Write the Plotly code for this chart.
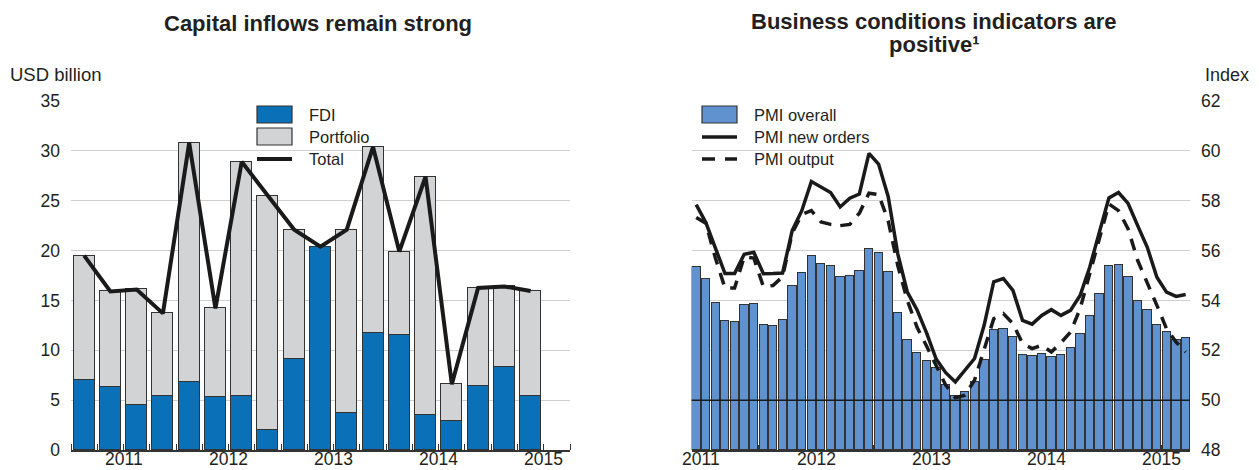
import plotly.graph_objects as go

# ---- Capital inflows, quarterly 2011Q1-2015Q2 (USD billion) ----
quarters = ["2011Q1", "2011Q2", "2011Q3", "2011Q4", "2012Q1", "2012Q2", "2012Q3", "2012Q4",
            "2013Q1", "2013Q2", "2013Q3", "2013Q4", "2014Q1", "2014Q2", "2014Q3", "2014Q4",
            "2015Q1", "2015Q2"]
fdi = [7.0, 6.35, 4.5, 5.4, 6.8, 5.3, 5.4, 2.05, 9.1, 20.4, 3.7, 11.7,
       11.5, 3.5, 2.9, 6.4, 8.35, 5.45]
portfolio = [12.5, 9.55, 11.6, 8.3, 24.0, 8.9, 23.5, 23.45, 13.0, 0.0, 18.4, 18.7,
             8.4, 23.9, 3.7, 9.85, 8.05, 10.5]
total = [a + b for a, b in zip(fdi, portfolio)]
left_years = ["2011", "2012", "2013", "2014", "2015"]
left_year_pos = [1.5, 5.5, 9.5, 13.5, 17.5]

# ---- PMI indices, monthly Jan 2011 - Apr 2015 ----
pmi_overall = [55.33, 54.87, 53.9, 53.17, 53.13, 53.83, 53.84, 53.03, 52.99, 53.23, 54.59, 55.12,
               55.79, 55.47, 55.4, 54.93, 55.0, 55.2, 56.07, 55.89, 55.15, 53.51, 52.43, 51.91,
               51.59, 51.29, 50.6, 50.17, 50.33, 50.71, 51.6, 52.8, 52.84, 52.53, 51.81, 51.79,
               51.84, 51.73, 51.81, 52.11, 52.67, 53.37, 54.27, 55.39, 55.41, 54.92, 53.99, 53.63,
               53.03, 52.73, 52.43, 52.48]
pmi_new_orders = [57.84, 57.13, 56.1, 55.08, 55.08, 55.85, 55.93, 55.07, 55.08, 55.1, 56.8, 57.6,
                  58.77, 58.53, 58.33, 57.75, 58.1, 58.27, 59.9, 59.47, 58.17, 55.87, 54.33, 53.63,
                  52.7, 51.65, 51.1, 50.73, 51.2, 51.67, 53.0, 54.75, 54.88, 54.4, 53.2, 53.05,
                  53.4, 53.63, 53.4, 53.6, 54.2, 55.33, 56.73, 58.11, 58.33, 57.89, 57.0, 56.13,
                  54.93, 54.33, 54.16, 54.24]
pmi_output = [57.33, 57.1, 55.7, 54.5, 54.5, 55.75, 55.7, 54.55, 54.6, 54.95, 56.7, 57.45,
              57.6, 57.15, 57.05, 57.0, 57.05, 57.5, 58.3, 58.25, 57.2, 55.4, 54.0, 52.93,
              52.17, 51.4, 50.6, 50.1, 50.2, 50.8, 52.0, 53.27, 53.47, 53.07, 52.27, 52.07,
              52.2, 51.93, 52.3, 52.73, 53.67, 55.07, 56.53, 57.87, 57.6, 56.87, 55.6, 54.73,
              53.8, 52.87, 52.33, 51.93]
right_years = ["2011", "2012", "2013", "2014", "2015"]
right_year_pos = [0.5, 12.5, 24.5, 36.5, 48.5]

W, H = 1259, 470
FONT = "Liberation Sans, Arial, Helvetica, sans-serif"
TXT = "#231f20"
BLUE = "#0a70b8"
GREY = "#d1d3d4"
PMI_BLUE = "#6192d0"
EDGE = "#333333"
GRID = "#cfcfcf"


def px_x(v):
    return v / W


def px_y(v):
    return 1 - v / H


qx = list(range(len(quarters)))
mx = list(range(len(pmi_overall)))

fig = go.Figure()

# left panel: stacked bars plus total line
fig.add_trace(go.Bar(x=qx, y=fdi, marker=dict(color=BLUE, line=dict(color=EDGE, width=1.2)),
                     width=0.8, xaxis="x", yaxis="y", showlegend=False))
fig.add_trace(go.Bar(x=qx, y=portfolio, marker=dict(color=GREY, line=dict(color=EDGE, width=1.2)),
                     width=0.8, xaxis="x", yaxis="y", showlegend=False))
fig.add_trace(go.Scatter(x=qx, y=total, mode="lines", line=dict(color="#1a1a1a", width=4),
                         xaxis="x", yaxis="y", showlegend=False))

# right panel: PMI bars and component lines
fig.add_trace(go.Bar(x=mx, y=[v - 48 for v in pmi_overall], base=48,
                     marker=dict(color=PMI_BLUE, line=dict(color=EDGE, width=1)),
                     width=0.87, xaxis="x2", yaxis="y2", showlegend=False))
fig.add_trace(go.Scatter(x=mx, y=pmi_new_orders, mode="lines", line=dict(color="#1a1a1a", width=3.5),
                         xaxis="x2", yaxis="y2", showlegend=False))
fig.add_trace(go.Scatter(x=mx, y=pmi_output, mode="lines",
                         line=dict(color="#1a1a1a", width=3.5, dash="12px,9px"),
                         xaxis="x2", yaxis="y2", showlegend=False))

ydom = [px_y(450), px_y(101)]
tickfont = dict(family=FONT, size=17.5, color=TXT)

fig.update_layout(
    width=W, height=H, margin=dict(l=0, r=0, t=0, b=0, autoexpand=False),
    paper_bgcolor="white", plot_bgcolor="white",
    barmode="stack", bargap=0,
    font=dict(family=FONT, color=TXT),
    xaxis=dict(domain=[px_x(71), px_x(570)], range=[-0.5, 18.5], anchor="y", automargin=False,
               showticklabels=False, ticks="", showgrid=False, zeroline=False,
               showline=True, linecolor=EDGE, linewidth=1.5,
               minor=dict(tickmode="array", tickvals=[i - 0.5 for i in range(20)], ticks="inside",
                          ticklen=6, tickcolor=EDGE, tickwidth=1, showgrid=False)),
    yaxis=dict(domain=ydom, range=[0, 35], anchor="x", tickmode="linear", tick0=0, dtick=5,
               automargin=False,
               showgrid=True, gridcolor=GRID, gridwidth=1, zeroline=False, showline=False,
               ticks="", tickfont=tickfont, ticklabelstandoff=10),
    xaxis2=dict(domain=[px_x(691.7), px_x(1190)], range=[-0.47, 51.45], anchor="y2", automargin=False,
                showticklabels=False, ticks="", showgrid=False, zeroline=False,
                showline=True, linecolor=EDGE, linewidth=1.5,
                minor=dict(tickmode="array", tickvals=[0.5 + 6 * i for i in range(9)], ticks="inside",
                           ticklen=5, tickcolor=EDGE, tickwidth=1, showgrid=False)),
    yaxis2=dict(domain=ydom, range=[48, 62], anchor="x2", side="right", tickmode="linear",
                automargin=False,
                tick0=48, dtick=2, showgrid=True, gridcolor=GRID, gridwidth=1, zeroline=False,
                showline=False, ticks="", tickfont=tickfont, ticklabelstandoff=10),
)

# 50 threshold line on the PMI panel
fig.add_shape(type="line", xref="x2 domain", x0=0, x1=1, yref="y2", y0=50, y1=50,
              line=dict(color="#1a1a1a", width=1.5), layer="above")

shapes = []
annots = []


def legend_box(x0, y0, x1, y1, color):
    shapes.append(dict(type="rect", xref="paper", yref="paper", x0=px_x(x0), x1=px_x(x1),
                       y0=px_y(y1), y1=px_y(y0), fillcolor=color,
                       line=dict(color=EDGE, width=1.2), layer="above"))


def legend_line(x0, x1, y, dash="solid", width=4):
    shapes.append(dict(type="line", xref="paper", yref="paper", x0=px_x(x0), x1=px_x(x1),
                       y0=px_y(y), y1=px_y(y), line=dict(color="#1a1a1a", width=width, dash=dash),
                       layer="above"))


def text(x, y, s, size=16.5, xanchor="left", yanchor="middle", xref="paper", pad=1):
    annots.append(dict(xref=xref, yref="paper", x=x if xref != "paper" else px_x(x), y=px_y(y),
                       text=s, showarrow=False, xanchor=xanchor, yanchor=yanchor, borderpad=pad,
                       font=dict(family=FONT, size=size, color=TXT)))


# year labels under each panel
for pos, lab in zip(left_year_pos, left_years):
    text(pos, 470, lab, size=17.5, xanchor="center", yanchor="bottom", xref="x", pad=0)
for pos, lab in zip(right_year_pos, right_years):
    text(pos, 470, lab, size=17.5, xanchor="center", yanchor="bottom", xref="x2", pad=0)

# left legend
legend_box(257, 106, 292, 123, BLUE)
legend_box(257, 128, 292, 145, GREY)
legend_line(257, 292, 159, width=4)
text(307, 114.5, "FDI")
text(307, 136.5, "Portfolio")
text(307, 159, "Total")

# right legend
legend_box(702, 106, 737, 123, PMI_BLUE)
legend_line(702, 737, 137, width=3.5)
legend_line(702, 737, 159, dash="13px,10px", width=3.5)
text(752, 114.5, "PMI overall")
text(752, 137, "PMI new orders")
text(752, 159, "PMI output")

# titles and unit labels
text(318, 23, "<b>Capital inflows remain strong</b>", size=22, xanchor="center")
text(934, 22, "<b>Business conditions indicators are</b>", size=22, xanchor="center")
text(934, 45, "<b>positive¹</b>", size=22, xanchor="center")
text(8, 75, "USD billion", size=18.5)
text(1251, 75, "Index", size=18, xanchor="right")

for s in shapes:
    fig.add_shape(**s)
fig.update_layout(annotations=annots)

fig.write_html("out.html")
